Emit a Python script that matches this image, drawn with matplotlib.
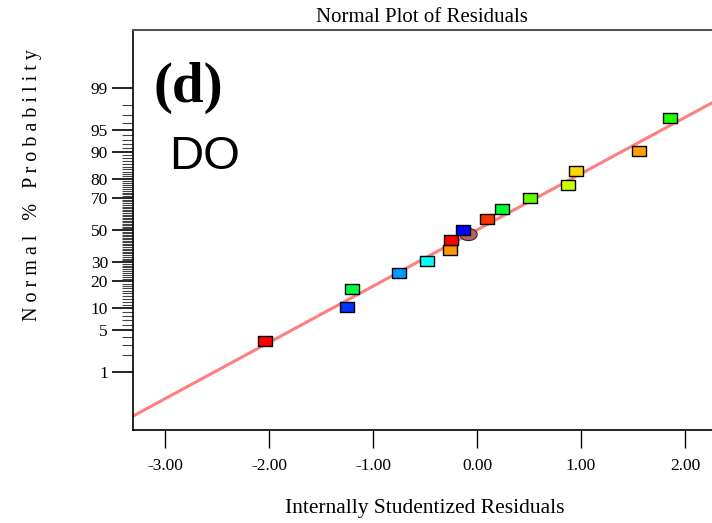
import matplotlib
matplotlib.use("Agg")
import matplotlib.pyplot as plt
from matplotlib.path import Path
from statistics import NormalDist
import numpy as np

# residuals (x) and normal % probability (y) of each run
residuals = [-2.04, -1.25, -1.20, -0.75, -0.48, -0.26, -0.25, -0.14,
             0.10, 0.24, 0.51, 0.87, 0.95, 1.56, 1.86]
probability = [3.4, 10.3, 16.6, 24.0, 30.5, 37.0, 43.5, 50.0,
               57.0, 63.4, 70.0, 77.0, 83.4, 90.3, 96.7]
point_colors = ["#FF0000", "#0033FF", "#00FF44", "#0099FF", "#00FFFF", "#FF9900",
                "#FF0000", "#0000FF", "#FF3300", "#00FF33", "#66FF00", "#CCFF00",
                "#FFD700", "#FFA000", "#22FF00"]

# centre point drawn as an ellipse
center_residual = [-0.09]
center_probability = [47.4]

# reference line
line_x = [-3.31, 2.26]
line_pct = [0.114, 98.15]

y_ticks = [1, 5, 10, 20, 30, 50, 70, 80, 90, 95, 99]
x_ticks = [-3.0, -2.0, -1.0, 0.0, 1.0, 2.0]

nd = NormalDist()


def z(p):
    return [nd.inv_cdf(v / 100.0) for v in p]


rect = Path([(-1, -0.75), (1, -0.75), (1, 0.75), (-1, 0.75), (-1, -0.75)],
            [Path.MOVETO, Path.LINETO, Path.LINETO, Path.LINETO, Path.CLOSEPOLY])
t = np.linspace(0, 2 * np.pi, 40)
ellipse = Path(np.column_stack([np.cos(t), 0.7 * np.sin(t)]))

fig = plt.figure(figsize=(7.12, 5.23), dpi=100)
ax = fig.add_axes([133 / 712, 93 / 523, 1 - 133 / 712, 400 / 523])

ax.plot(line_x, z(line_pct), color="#FF7F7F", linewidth=2.2, zorder=2)
ax.plot(center_residual, z(center_probability), linestyle="none", marker=ellipse,
        markersize=12.5, markerfacecolor="#B86060", markeredgecolor="#402020",
        markeredgewidth=0.8, zorder=3)
for xv, yv, c in zip(residuals, z(probability), point_colors):
    ax.plot([xv], [yv], linestyle="none", marker=rect, markersize=9.5,
            markerfacecolor=c, markeredgecolor="black", markeredgewidth=1.0, zorder=4)

ax.set_xlim(-3.31, 2.26)
ax.set_ylim(-3.28, 3.28)

serif = "Liberation Serif"
ax.set_xticks(x_ticks)
ax.set_xticklabels([f"{v:.2f}" for v in x_ticks], fontfamily=serif, fontsize=12.5)
ax.set_yticks(z(y_ticks))
ax.set_yticklabels([str(v) for v in y_ticks], fontfamily=serif, fontsize=12.5)
ax.set_yticks(z(list(range(1, 100))), minor=True)
ax.tick_params(axis="y", which="major", length=15, width=1.2, pad=3)
ax.tick_params(axis="y", which="minor", length=8, width=0.8, color="#444444")
ax.tick_params(axis="x", which="major", length=13, width=1.0, pad=7, direction="out")

ax.spines["right"].set_visible(False)
ax.spines["top"].set_color("#555555")
ax.spines["top"].set_linewidth(1.5)
ax.spines["left"].set_linewidth(1.2)
ax.spines["bottom"].set_linewidth(1.2)

fig.text(422 / 712, 1 - 17 / 523, "Normal Plot of Residuals", ha="center", va="center",
         fontfamily=serif, fontsize=15)
fig.text(425 / 712, 1 - 509 / 523, "Internally Studentized Residuals", ha="center",
         va="center", fontfamily=serif, fontsize=15.5)
fig.text(33 / 712, 1 - 185 / 523, "N o r m a l   %   P r o b a b i l i t y", rotation=90,
         ha="center", va="center", fontfamily=serif, fontsize=14.5)

ax.text(153 / 712, 1 - 88 / 523, "(d)", transform=fig.transFigure, ha="left", va="center",
        fontfamily=serif, fontweight="bold", fontsize=41)
ax.text(169 / 712, 1 - 157 / 523, "DO", transform=fig.transFigure, ha="left", va="center",
        fontfamily="Liberation Sans", fontsize=34)

fig.savefig("out.png", dpi=100)
